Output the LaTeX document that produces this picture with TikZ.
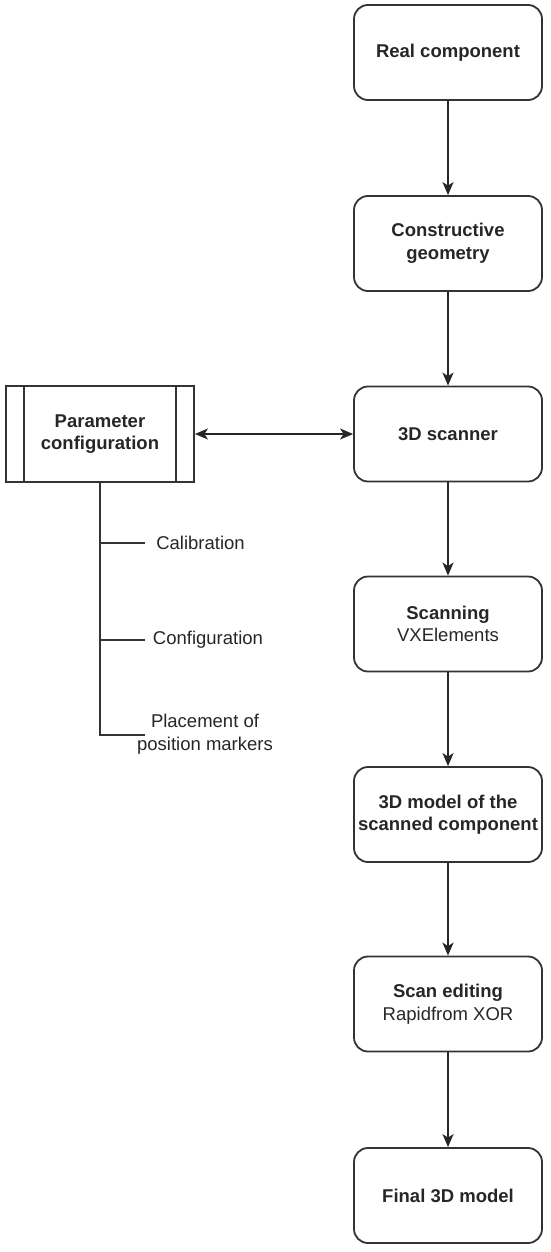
\documentclass[tikz,border=0pt]{standalone}
\usepackage{fontspec}
\setmainfont{Liberation Sans}
\usetikzlibrary{arrows.meta}
\begin{document}
\begin{tikzpicture}[x=1pt,y=-1pt,
  every node/.style={font=\fontsize{18.5}{22.5}\selectfont, text=black!85},
  stepbox/.style={draw=black!80, line width=1.8pt, rounded corners=14pt, minimum width=188pt, minimum height=95pt, align=center, inner sep=2pt},
  parbox/.style={draw=black!80, line width=1.8pt, minimum width=188pt, minimum height=96pt, align=center},
  tip/.style={Stealth[length=13pt,width=11pt,inset=3.5pt]},
  conn/.style={draw=black!85, line width=1.8pt, -{Stealth[length=13pt,width=11pt,inset=3.5pt]}},
  dconn/.style={draw=black!85, line width=1.8pt, {Stealth[length=13pt,width=11pt,inset=3.5pt]}-{Stealth[length=13pt,width=11pt,inset=3.5pt]}},
  tree/.style={draw=black!80, line width=1.8pt},
  lbl/.style={align=center, inner sep=0pt}
]
\useasboundingbox (0,0) rectangle (550,1252);
\node[stepbox] (rc) at (448,52.5) {\textbf{Real component}};
\node[stepbox] (cg) at (448,243.5) {\textbf{Constructive}\\\textbf{geometry}};
\node[stepbox] (sc) at (448,434) {\textbf{3D scanner}};
\node[stepbox] (sn) at (448,624) {\textbf{Scanning}\\VXElements};
\node[stepbox] (md) at (448,814.5) {\textbf{3D model of the}\\\textbf{scanned component}};
\node[stepbox] (ed) at (448,1004) {\textbf{Scan editing}\\Rapidfrom XOR};
\node[stepbox] (fm) at (448,1195.5) {\textbf{Final 3D model}};

\node[parbox] (pc) at (100,434) {\textbf{Parameter}\\\textbf{configuration}};
\draw[tree] ([xshift=19pt]pc.north west) -- ([xshift=19pt]pc.south west);
\draw[tree] ([xshift=-19pt]pc.north east) -- ([xshift=-19pt]pc.south east);

\draw[conn] (rc) -- (cg);
\draw[conn] (cg) -- (sc);
\draw[conn] (sc) -- (sn);
\draw[conn] (sn) -- (md);
\draw[conn] (md) -- (ed);
\draw[conn] (ed) -- (fm);
\draw[dconn] (pc) -- (sc);

\coordinate (j1) at (100,543);
\coordinate (j2) at (100,640);
\coordinate (j3) at (100,735);
\coordinate (b1) at (145,543);
\coordinate (b2) at (145,640);
\coordinate (b3) at (145,735);
\node[lbl] (l1) at (200.5,543) {Calibration};
\node[lbl] (l2) at (208,640) {Configuration};
\node[lbl] (l3) at (205,734) {Placement of\\position markers};
\draw[tree] (pc.south) -- (j3) -- (b3);
\draw[tree] (j1) -- (b1);
\draw[tree] (j2) -- (b2);
\end{tikzpicture}
\end{document}
